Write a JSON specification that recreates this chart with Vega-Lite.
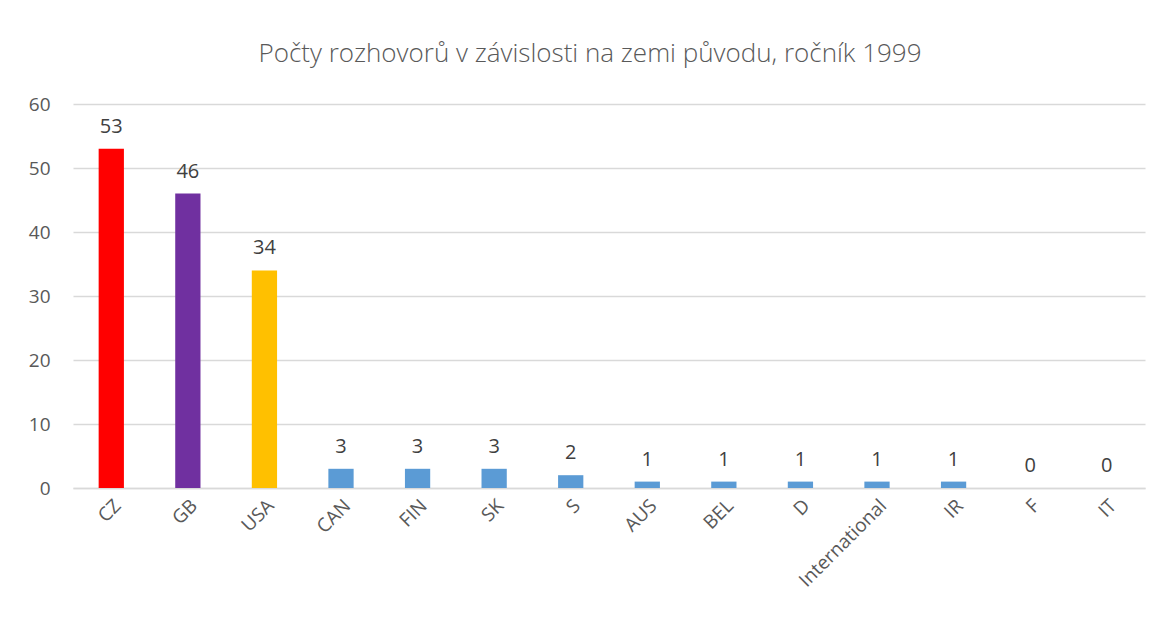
{
  "$schema": "https://vega.github.io/schema/vega-lite/v6.json",
  "width": 1072,
  "height": 384,
  "autosize": {"type": "none"},
  "padding": {"left": 73, "top": 104, "right": 19, "bottom": 150},
  "background": "white",
  "title": {
    "text": "Počty rozhovorů v závislosti na zemi původu, ročník 1999",
    "font": "Open Sans",
    "fontSize": 26,
    "fontWeight": 300,
    "color": "#595959",
    "offset": 28,
    "dx": -19
  },
  "config": {
    "view": {"stroke": null},
    "axis": {"labelFont": "Open Sans", "labelFontSize": 19, "labelColor": "#595959", "labelFontWeight": "normal"}
  },
  "data": {
    "values": [
      {"country": "CZ", "count": 53, "color": "#FF0000"},
      {"country": "GB", "count": 46, "color": "#7030A0"},
      {"country": "USA", "count": 34, "color": "#FFC000"},
      {"country": "CAN", "count": 3, "color": "#5B9BD5"},
      {"country": "FIN", "count": 3, "color": "#5B9BD5"},
      {"country": "SK", "count": 3, "color": "#5B9BD5"},
      {"country": "S", "count": 2, "color": "#5B9BD5"},
      {"country": "AUS", "count": 1, "color": "#5B9BD5"},
      {"country": "BEL", "count": 1, "color": "#5B9BD5"},
      {"country": "D", "count": 1, "color": "#5B9BD5"},
      {"country": "International", "count": 1, "color": "#5B9BD5"},
      {"country": "IR", "count": 1, "color": "#5B9BD5"},
      {"country": "F", "count": 0, "color": "#5B9BD5"},
      {"country": "IT", "count": 0, "color": "#5B9BD5"}
    ]
  },
  "encoding": {
    "x": {
      "field": "country",
      "type": "nominal",
      "sort": null,
      "scale": {"paddingInner": 0.67, "paddingOuter": 0.335},
      "axis": {
        "title": null,
        "labelAngle": -45,
        "ticks": false,
        "domainColor": "#d9d9d9",
        "domainWidth": 1.5,
        "labelPadding": 8
      }
    },
    "y": {
      "field": "count",
      "type": "quantitative",
      "scale": {"domain": [0, 60]},
      "axis": {
        "title": null,
        "values": [0, 10, 20, 30, 40, 50, 60],
        "domain": false,
        "ticks": false,
        "gridColor": "#d9d9d9",
        "gridWidth": 1.5,
        "labelPadding": 23
      }
    }
  },
  "layer": [
    {
      "mark": {"type": "bar"},
      "encoding": {"color": {"field": "color", "type": "nominal", "scale": null}}
    },
    {
      "mark": {"type": "text", "baseline": "bottom", "dy": -12, "font": "Open Sans", "fontSize": 20, "fontWeight": "normal", "color": "#404040"},
      "encoding": {"text": {"field": "count", "type": "quantitative"}}
    }
  ]
}
